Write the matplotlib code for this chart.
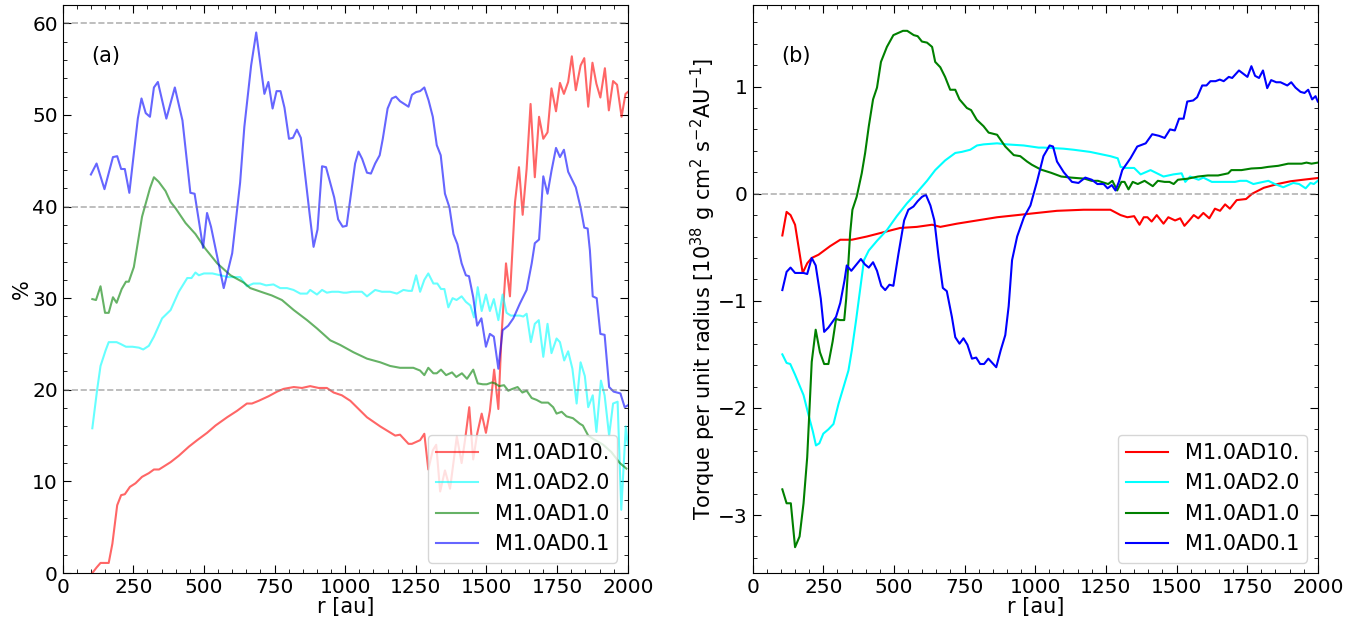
import numpy as np
import matplotlib
matplotlib.use("Agg")
import matplotlib.pyplot as plt

labels = ["M1.0AD10.", "M1.0AD2.0", "M1.0AD1.0", "M1.0AD0.1"]
colors = ["red", "cyan", "green", "blue"]

# ---- panel (a): percentage vs r ----
r_a10 = [105,120,134,163,176,193,207,220,238,258,281,305,323,341,382,411,447,476,511,541,582,617,652,670,694,729,759,782,818,847,876,906,935,959,988,1018,1077,1124,1177,1194,1224,1236,1265,1280,1294,1310,1322,1336,1353,1371,1395,1412,1424,1439,1453,1467,1483,1498,1512,1527,1542,1553,1569,1583,1601,1615,1628,1642,1656,1671,1686,1701,1716,1730,1746,1760,1774,1789,1802,1816,1833,1846,1860,1875,1889,1903,1919,1933,1948,1962,1978,1992,2000]
p_a10 = [0.0,0.6,1.1,1.1,3.2,7.4,8.5,8.6,9.4,9.8,10.5,10.9,11.3,11.3,12.1,12.8,13.8,14.5,15.3,16.1,17.0,17.7,18.5,18.5,18.8,19.3,19.8,20.1,20.3,20.2,20.4,20.2,20.2,19.7,19.4,18.8,17.0,16.0,15.0,15.1,14.1,14.1,14.5,15.2,11.3,13.4,14.0,8.9,11.2,9.2,14.9,12.0,14.5,18.1,12.4,15.2,17.4,15.3,17.7,22.2,17.9,25.8,33.8,30.2,40.5,44.3,39.1,44.1,51.2,43.2,49.8,47.4,48.1,52.9,50.4,53.5,52.3,53.6,56.4,52.7,55.4,56.2,50.9,55.7,53.4,51.9,55.1,50.5,53.7,53.3,49.8,52.3,52.5]

r_a2 = [105,122,134,152,163,191,205,224,247,270,285,305,323,352,382,411,441,456,470,482,500,530,558,587,628,652,675,699,720,746,770,794,817,841,865,876,900,918,935,953,976,994,1005,1024,1059,1077,1106,1130,1159,1183,1206,1224,1236,1251,1265,1280,1294,1312,1326,1339,1351,1365,1380,1394,1412,1427,1443,1456,1469,1483,1498,1512,1526,1542,1557,1571,1586,1618,1630,1642,1657,1671,1685,1701,1716,1730,1748,1760,1775,1789,1804,1819,1833,1848,1860,1876,1889,1905,1918,1934,1948,1964,1977,1993,2000]
p_a2 = [15.8,20.0,22.6,24.3,25.2,25.2,25.0,24.7,24.7,24.6,24.4,24.8,25.8,27.8,28.7,30.7,32.2,32.2,32.8,32.5,32.7,32.7,32.5,32.3,32.3,31.3,31.6,31.6,31.4,31.5,31.1,31.1,30.9,30.5,30.5,30.9,30.4,30.9,30.6,30.7,30.7,30.6,30.6,30.7,30.7,30.2,30.9,30.7,30.7,30.5,30.9,30.8,30.8,32.5,30.7,32.0,32.7,31.6,31.6,31.0,31.0,29.0,30.0,29.8,30.2,29.6,29.2,27.9,31.2,28.6,30.4,28.6,29.9,27.6,30.4,28.4,28.1,28.1,28.0,28.3,25.2,27.2,27.6,23.6,27.2,24.0,25.6,25.2,23.2,24.2,22.3,18.5,23.0,21.5,18.1,19.4,15.4,21.0,19.4,15.0,18.5,18.7,6.9,16.0,14.0]

r_a1 = [105,118,134,150,163,178,191,209,224,234,252,281,309,323,340,364,382,400,435,470,505,547,594,641,664,711,740,776,818,865,900,947,982,1029,1077,1124,1159,1194,1241,1265,1280,1294,1312,1324,1339,1357,1378,1393,1413,1431,1453,1469,1487,1501,1519,1530,1545,1562,1577,1592,1610,1627,1642,1660,1677,1695,1718,1736,1748,1766,1783,1806,1830,1841,1860,1880,1913,1942,1972,1995]
p_a1 = [29.9,29.8,31.3,28.4,28.4,30.1,29.5,31.0,31.8,31.8,33.4,38.9,42.0,43.2,42.7,41.7,40.5,39.8,38.2,37.0,35.4,33.8,32.5,31.7,31.1,30.6,30.3,29.8,28.7,27.6,26.7,25.4,24.9,24.1,23.4,23.0,22.6,22.4,22.4,22.1,21.6,22.4,21.8,21.8,22.2,21.6,21.9,21.4,21.8,21.2,22.2,20.7,20.6,20.6,20.8,20.7,20.4,20.5,19.9,20.1,20.3,19.7,19.9,19.1,18.9,18.6,18.6,18.1,17.4,17.6,17.1,16.9,16.3,16.1,15.0,14.6,14.0,13.2,12.0,11.4]

r_a01 = [100,120,148,178,193,207,220,236,266,279,294,309,323,337,367,397,424,452,467,497,511,525,570,600,628,643,667,685,700,714,728,743,757,771,785,801,815,829,843,874,888,902,918,932,961,975,991,1005,1035,1047,1060,1077,1091,1106,1122,1133,1150,1165,1179,1194,1224,1236,1251,1265,1280,1295,1310,1324,1338,1353,1369,1383,1397,1412,1427,1438,1453,1467,1482,1498,1512,1526,1542,1557,1577,1595,1618,1642,1660,1671,1686,1701,1716,1730,1746,1760,1774,1789,1816,1833,1846,1858,1866,1876,1890,1903,1918,1934,1950,1974,1989,2000]
p_a01 = [43.5,44.7,41.9,45.4,45.5,44.1,44.1,41.5,49.6,51.8,50.2,49.8,53.0,53.6,49.6,53.0,49.4,41.5,41.4,35.5,39.3,37.8,31.1,34.9,42.6,48.7,55.4,59.0,55.5,52.3,53.6,50.7,52.6,52.6,50.8,47.4,47.5,48.4,47.5,39.2,35.6,37.5,44.4,44.3,41.0,38.6,37.8,37.9,44.7,46.0,45.2,43.7,43.6,44.7,45.6,47.4,50.7,51.8,52.0,51.5,50.9,52.2,52.5,52.6,53.0,51.6,49.8,46.7,45.6,41.4,39.9,37.0,35.9,33.8,32.5,32.4,30.1,27.0,27.8,24.7,26.1,25.8,22.3,26.5,27.0,27.8,29.4,30.9,33.8,36.0,36.4,43.3,41.4,43.9,46.4,45.4,46.2,43.8,42.1,39.9,37.7,37.6,35.2,30.2,30.0,26.1,26.0,20.3,19.8,19.6,18.1,18.3]

# ---- panel (b): torque per unit radius ----
r_b10 = [105,120,134,150,177,193,209,233,274,310,351,404,463,522,581,635,664,723,794,865,936,1006,1077,1171,1266,1302,1326,1350,1369,1384,1397,1412,1430,1454,1471,1495,1513,1528,1545,1561,1577,1595,1616,1636,1654,1672,1689,1713,1746,1768,1809,1857,1904,1951,2000]
t_b10 = [-0.39,-0.17,-0.20,-0.29,-0.74,-0.65,-0.60,-0.57,-0.49,-0.43,-0.43,-0.40,-0.36,-0.32,-0.31,-0.29,-0.31,-0.28,-0.25,-0.22,-0.20,-0.18,-0.16,-0.15,-0.15,-0.20,-0.22,-0.21,-0.29,-0.22,-0.22,-0.26,-0.20,-0.28,-0.22,-0.25,-0.23,-0.30,-0.25,-0.20,-0.23,-0.18,-0.23,-0.14,-0.16,-0.10,-0.14,-0.06,-0.05,0.0,0.055,0.09,0.116,0.131,0.146]

r_b2 = [105,120,133,150,180,198,213,224,236,250,268,286,304,321,339,351,366,376,394,411,440,475,510,546,581,617,646,681,717,740,770,794,817,865,900,959,1012,1030,1100,1136,1194,1266,1292,1302,1320,1350,1373,1408,1454,1489,1518,1531,1548,1578,1595,1625,1654,1689,1707,1725,1748,1772,1807,1825,1848,1878,1913,1934,1957,1974,1986,2000]
t_b2 = [-1.50,-1.58,-1.59,-1.69,-1.88,-2.07,-2.22,-2.35,-2.33,-2.24,-2.20,-2.15,-1.96,-1.81,-1.65,-1.46,-1.18,-0.98,-0.62,-0.53,-0.44,-0.34,-0.21,-0.09,0.01,0.12,0.22,0.31,0.38,0.39,0.41,0.45,0.46,0.47,0.46,0.45,0.43,0.43,0.42,0.41,0.39,0.35,0.33,0.25,0.24,0.24,0.18,0.22,0.16,0.18,0.19,0.11,0.16,0.13,0.15,0.11,0.11,0.11,0.11,0.12,0.12,0.09,0.11,0.12,0.09,0.06,0.10,0.09,0.05,0.10,0.09,0.12]

r_b1 = [105,120,135,150,166,180,193,209,223,238,253,268,283,295,309,324,331,345,353,368,386,398,411,426,440,454,475,498,532,547,570,584,599,617,635,646,664,681,699,717,732,758,773,793,817,835,865,894,924,947,971,988,1020,1056,1092,1127,1175,1199,1222,1258,1273,1290,1305,1316,1330,1345,1363,1387,1416,1434,1458,1475,1490,1505,1540,1576,1611,1647,1683,1694,1730,1765,1800,1824,1860,1895,1920,1943,1960,1978,2000]
t_b1 = [-2.76,-2.89,-2.89,-3.30,-3.20,-2.89,-2.46,-1.57,-1.27,-1.48,-1.59,-1.59,-1.38,-1.17,-1.18,-1.18,-0.98,-0.37,-0.15,-0.03,0.19,0.38,0.63,0.88,0.99,1.23,1.37,1.48,1.52,1.52,1.48,1.47,1.42,1.41,1.37,1.23,1.18,1.09,0.97,0.97,0.88,0.80,0.78,0.69,0.63,0.57,0.55,0.44,0.36,0.35,0.30,0.27,0.225,0.195,0.16,0.15,0.14,0.12,0.12,0.09,0.12,0.03,0.11,0.11,0.04,0.11,0.09,0.12,0.07,0.12,0.11,0.11,0.09,0.13,0.14,0.16,0.17,0.17,0.19,0.22,0.22,0.235,0.24,0.25,0.26,0.28,0.28,0.28,0.29,0.28,0.29]

r_b01 = [105,120,134,150,180,193,209,223,241,253,268,295,310,325,333,349,383,397,411,426,440,455,469,484,498,516,536,551,569,584,599,613,629,643,658,673,687,705,717,732,746,760,776,791,805,819,834,862,878,894,906,918,936,960,983,1006,1029,1051,1063,1077,1101,1130,1153,1177,1200,1220,1242,1256,1271,1284,1296,1308,1337,1361,1391,1414,1438,1458,1477,1494,1509,1525,1538,1559,1573,1591,1606,1620,1638,1653,1667,1685,1697,1721,1751,1765,1778,1792,1806,1821,1835,1853,1868,1892,1906,1921,1939,1953,1966,1980,1992,2000]
t_b01 = [-0.90,-0.73,-0.69,-0.74,-0.74,-0.75,-0.60,-0.67,-0.98,-1.29,-1.25,-1.15,-1.02,-0.81,-0.67,-0.72,-0.61,-0.66,-0.69,-0.64,-0.72,-0.86,-0.90,-0.85,-0.86,-0.56,-0.25,-0.15,-0.12,-0.07,-0.03,-0.01,-0.11,-0.25,-0.59,-0.88,-0.91,-1.15,-1.34,-1.40,-1.35,-1.41,-1.54,-1.53,-1.59,-1.59,-1.54,-1.62,-1.46,-1.32,-1.05,-0.62,-0.40,-0.22,-0.11,0.11,0.35,0.45,0.44,0.30,0.20,0.11,0.10,0.15,0.13,0.09,0.09,0.05,0.08,0.03,0.11,0.22,0.33,0.44,0.47,0.555,0.54,0.52,0.60,0.59,0.70,0.70,0.86,0.87,0.90,1.01,1.01,1.05,1.05,1.065,1.05,1.09,1.08,1.15,1.09,1.19,1.10,1.08,1.15,0.985,1.06,1.04,1.04,1.01,1.04,0.99,0.95,0.94,0.97,0.88,0.91,0.86]

plt.rcParams['font.size'] = 15

fig = plt.figure(figsize=(13.68, 6.27), dpi=100)
ax1 = fig.add_axes([0.0458, 0.0861, 0.4131, 0.9059])
ax2 = fig.add_axes([0.5502, 0.0861, 0.4131, 0.9059])

for r, p, lab, c in zip([r_a10, r_a2, r_a1, r_a01], [p_a10, p_a2, p_a1, p_a01], labels, colors):
    ax1.plot(r, p, color=c, alpha=0.6, lw=1.5, label=lab)
for yy in [20, 40, 60]:
    ax1.axhline(yy, color='gray', ls='--', lw=1.2, alpha=0.6)
ax1.set_xlim(0, 2000)
ax1.set_ylim(0, 62)
ax1.set_xticks(np.arange(0, 2001, 250))
ax1.set_xlabel('r [au]', labelpad=0)
ax1.set_ylabel('%', labelpad=0)
ax1.text(0.05, 0.91, '(a)', transform=ax1.transAxes, va='center')
ax1.legend(loc='lower right')

for r, t, lab, c in zip([r_b10, r_b2, r_b1, r_b01], [t_b10, t_b2, t_b1, t_b01], labels, colors):
    ax2.plot(r, t, color=c, lw=1.5, label=lab)
ax2.axhline(0, color='gray', ls='--', lw=1.2, alpha=0.6)
ax2.set_xlim(0, 2000)
ax2.set_xticks(np.arange(0, 2001, 250))
ax2.set_xlabel('r [au]', labelpad=0)
ax2.set_ylabel(r'Torque per unit radius [$10^{38}$ g cm$^2$ s$^{-2}$AU$^{-1}$]', labelpad=0)
ax2.text(0.05, 0.91, '(b)', transform=ax2.transAxes, va='center')
ax2.legend(loc='lower right')

for ax in [ax1, ax2]:
    ax.minorticks_on()
    ax.tick_params(which='both', direction='in', top=True, right=True, labelsize=14.5)
    ax.tick_params(which='major', length=6)
    ax.tick_params(which='minor', length=3)

fig.savefig('out.png', dpi=100)
